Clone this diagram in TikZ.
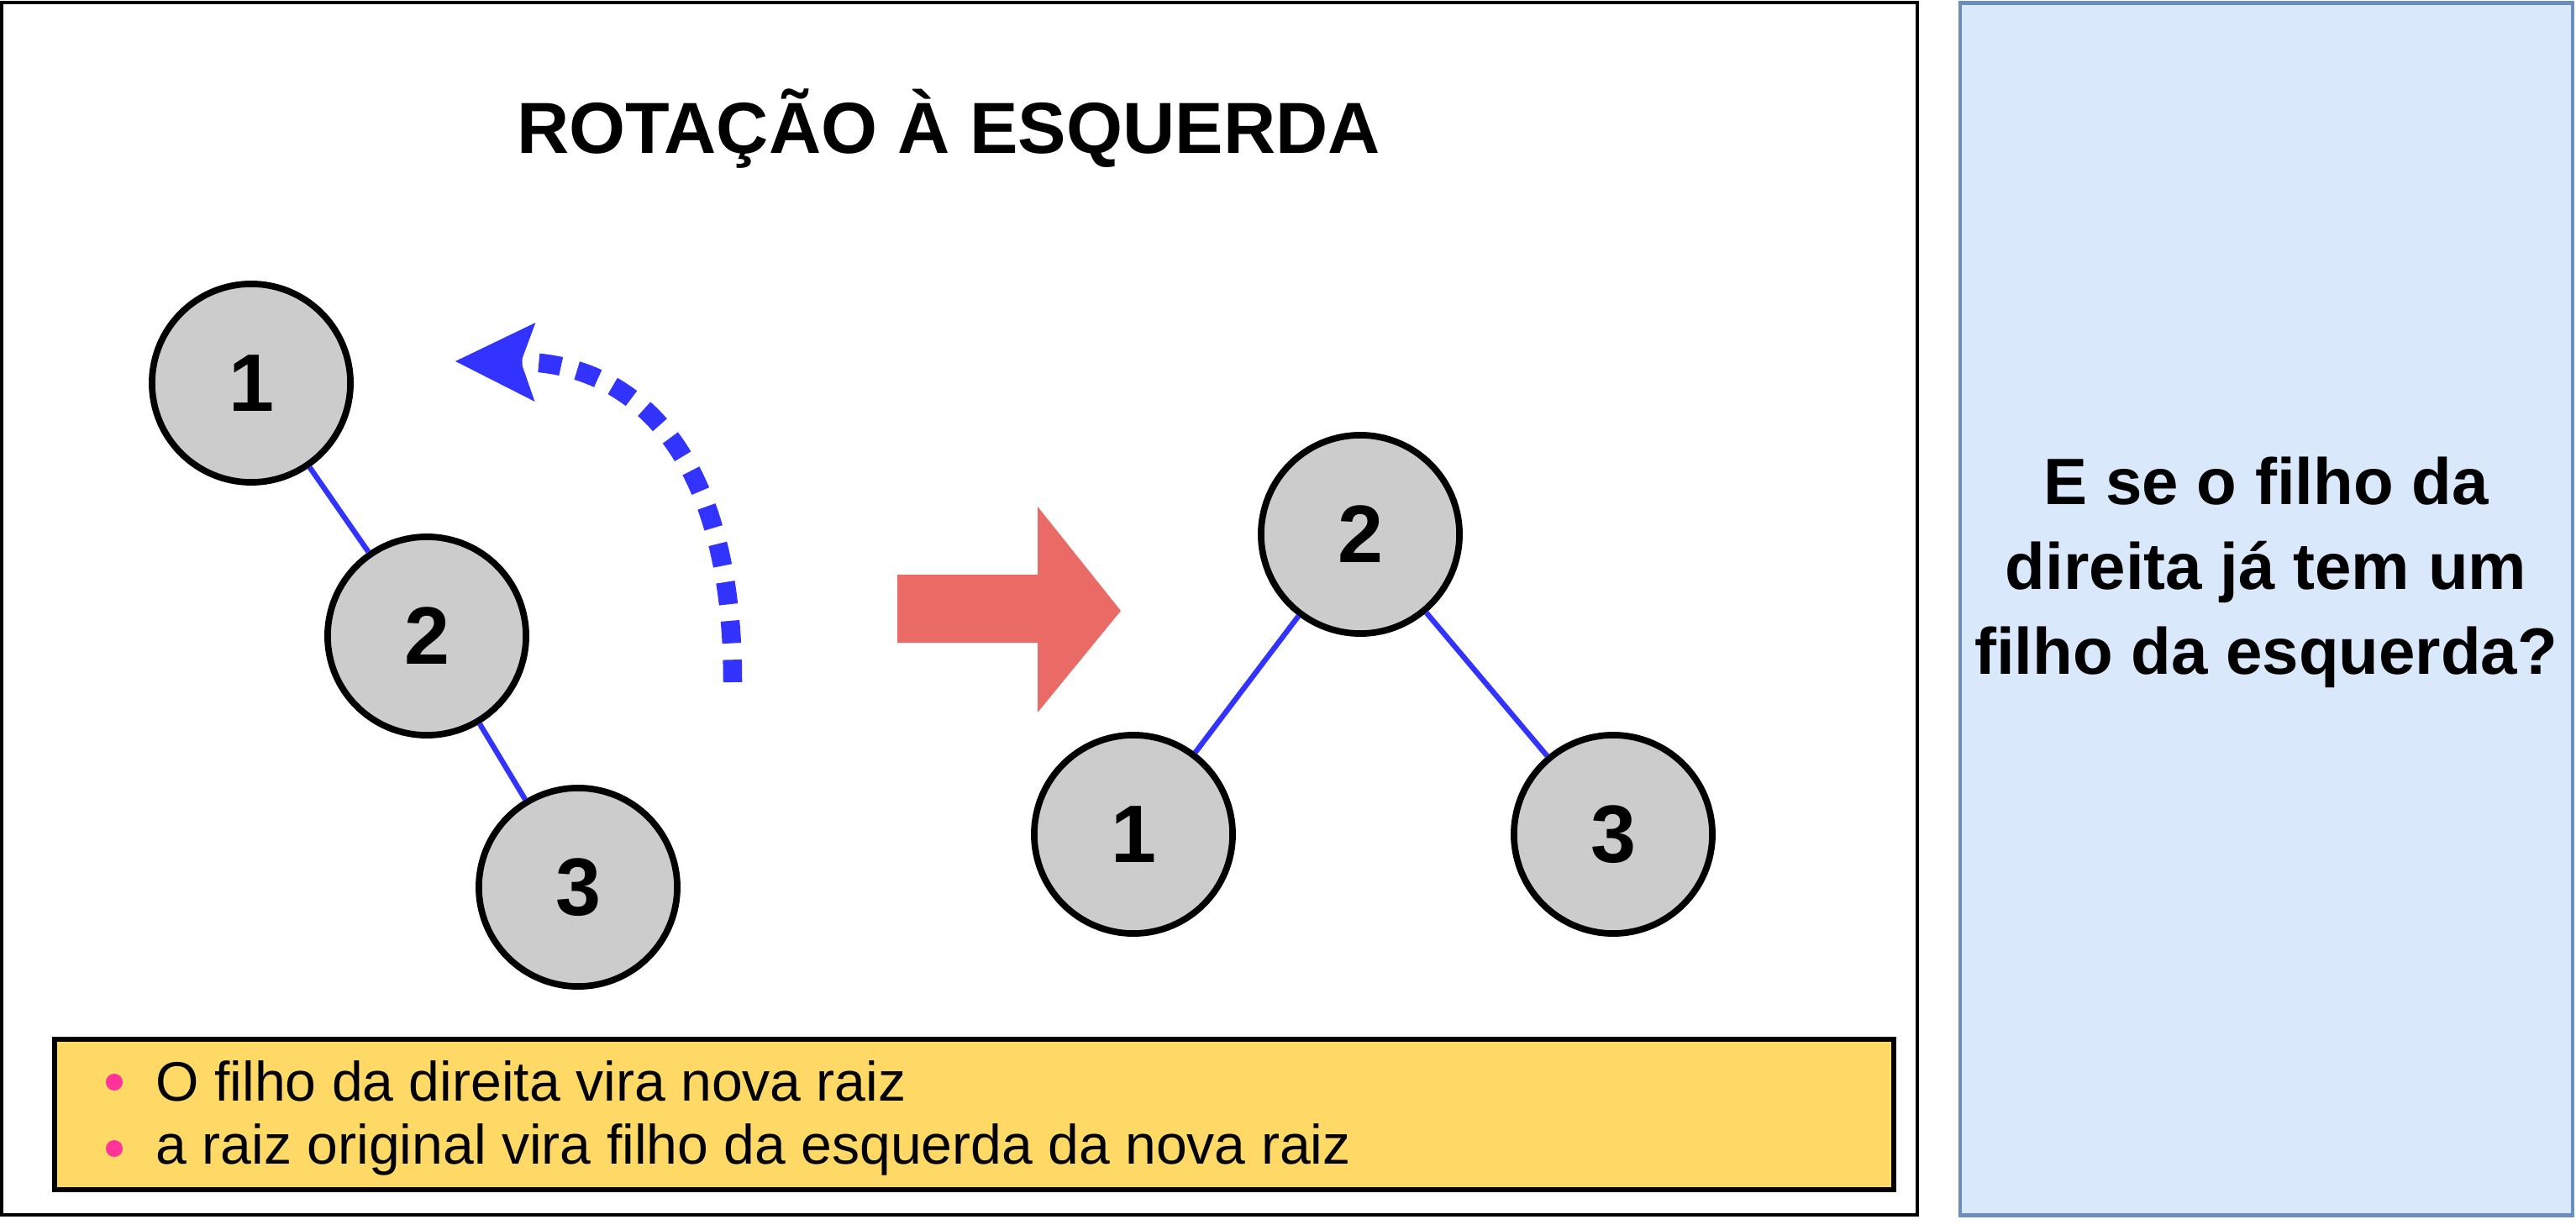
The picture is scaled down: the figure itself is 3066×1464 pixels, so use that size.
\documentclass[tikz,border=0pt]{standalone}
\usepackage{fontspec}
\setmainfont{Liberation Sans}
\usetikzlibrary{arrows.meta, positioning}

\definecolor{nodegray}{HTML}{CCCCCC}
\definecolor{edgeblue}{HTML}{3333FF}
\definecolor{arrowred}{HTML}{EA6B66}
\definecolor{noteyellow}{HTML}{FFD966}
\definecolor{qfill}{HTML}{DAE8FC}
\definecolor{qdraw}{HTML}{6C8EBF}
\definecolor{bulletpink}{HTML}{FF3399}

\begin{document}
\begin{tikzpicture}[x=0.01cm, y=-0.01cm]
    % Styles
    \tikzset{
      treenode/.style={circle, draw=black, line width=2.2pt, fill=nodegray, minimum size=2.36cm, inner sep=0pt, font=\fontsize{27.6}{30}\selectfont\bfseries},
      treeedge/.style={draw=edgeblue, line width=1.8pt},
      rotarrow/.style={draw=edgeblue, line width=6.4pt, dash pattern=on 7.6pt off 5.6pt,
        -{Stealth[length=27pt, width=26.7pt, inset=4.8pt, line width=0pt]}},
      notebox/.style={rectangle, draw=black, line width=1.7pt, fill=noteyellow, inner sep=0pt},
      notetext/.style={anchor=base west, inner sep=0pt, font=\fontsize{18.8}{22}\selectfont},
      qbox/.style={rectangle, draw=qdraw, line width=1.2pt, fill=qfill, inner sep=0pt},
      qtext/.style={align=center, inner sep=0pt, font=\fontsize{22.2}{28.7}\selectfont\bfseries}
    }
    \useasboundingbox (0,0) rectangle (3066,1464);

    % Frames
    \draw [line width=1pt] (2,3) rectangle (2282,1446);
    \node [qbox, minimum width=7.29cm, minimum height=14.42cm] (question) at (2697.5,725) {};
    \node [qtext] (qlabel) at (2697,681) {E se o filho da\\direita já tem um\\filho da esquerda?};

    % Title
    \node [anchor=base, inner sep=0pt, font=\fontsize{24.5}{28}\selectfont\bfseries] (title) at (1129,183) {ROTAÇÃO À ESQUERDA};

    % Tree before rotation
    \node [treenode] (a1) at (299,456) {1};
    \node [treenode] (a2) at (508,757) {2};
    \node [treenode] (a3) at (688,1056) {3};
    \draw [treeedge] (a1) -- (a2);
    \draw [treeedge] (a2) -- (a3);

    % Rotation hint
    \coordinate (rotstart) at (872,812);
    \coordinate (rotend) at (542,430);
    \draw [rotarrow] (rotstart) .. controls (872,520) and (740,432) .. (rotend);

    % Big arrow
    \fill [arrowred] (1068,684) -- (1235,684) -- (1235,603) -- (1334,727) -- (1235,848) -- (1235,765) -- (1068,765) -- cycle;

    % Tree after rotation
    \node [treenode] (b2) at (1619,636) {2};
    \node [treenode] (b1) at (1349,993) {1};
    \node [treenode] (b3) at (1920,993) {3};
    \draw [treeedge] (b2) -- (b1);
    \draw [treeedge] (b2) -- (b3);

    % Notes
    \node [notebox, minimum width=21.88cm, minimum height=1.79cm, anchor=north west] (note) at (62,1234) {};
    \fill [bulletpink] (136,1288) circle [radius=10];
    \fill [bulletpink] (136,1367) circle [radius=10];
    \node [notetext] (line1) at (185,1310) {O filho da direita vira nova raiz};
    \node [notetext] (line2) at (185,1385) {a raiz original vira filho da esquerda da nova raiz};
\end{tikzpicture}
\end{document}
